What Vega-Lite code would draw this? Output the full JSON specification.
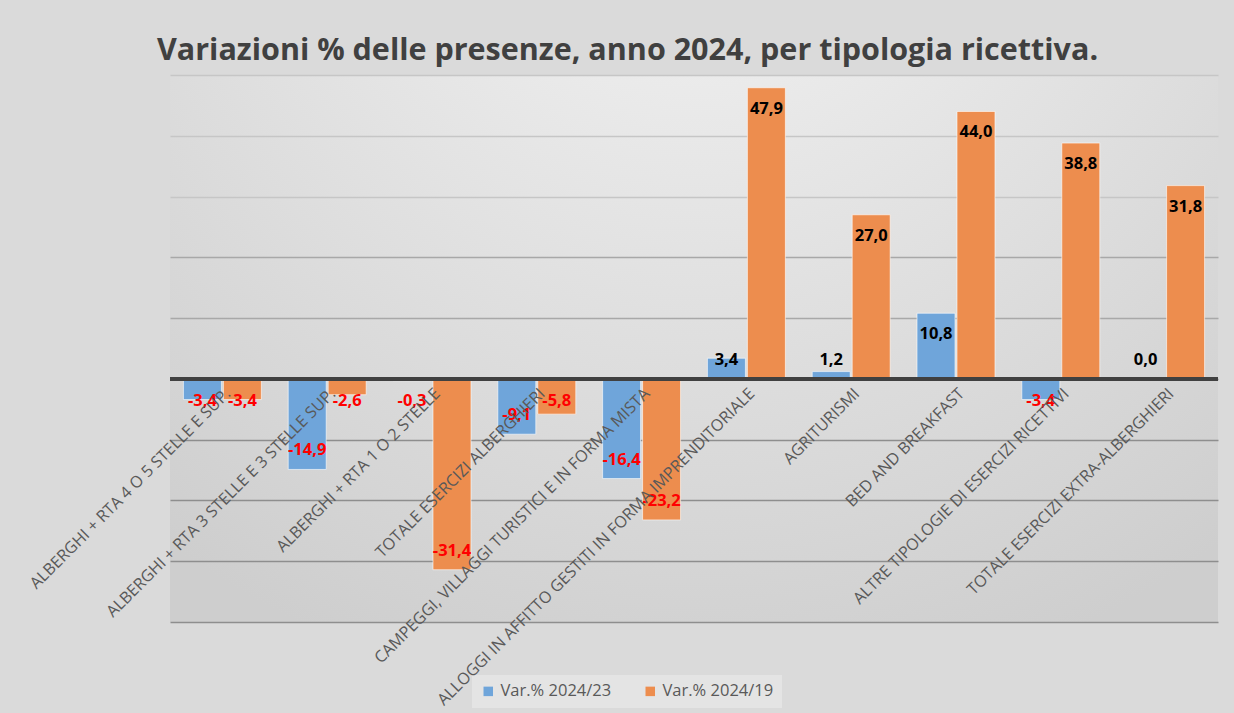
{
  "$schema": "https://vega.github.io/schema/vega-lite/v6.json",
  "autosize": {"type": "none"},
  "width": 1048,
  "height": 547,
  "padding": {"left": 170, "top": 75, "right": 16, "bottom": 91},
  "background": "#dadada",
  "config": {
    "locale": {"number": {"decimal": ",", "thousands": ".", "grouping": [3], "currency": ["€", ""], "minus": "-"}},
    "view": {"stroke": null, "fill": {"gradient": "radial", "x1": 0.5, "y1": 0.0, "r1": 0, "x2": 0.5, "y2": 0.0, "r2": 0.85, "stops": [{"offset": 0, "color": "#f6f6f6"}, {"offset": 1, "color": "#cecece"}]}},
    "font": "Open Sans"
  },
  "title": {
    "text": "Variazioni % delle presenze, anno 2024, per tipologia ricettiva.",
    "anchor": "start",
    "frame": "group",
    "dx": -13,
    "fontSize": 30.5,
    "fontWeight": "bold",
    "color": "#404040",
    "font": "Open Sans",
    "offset": -15,
    "baseline": "alphabetic"
  },
  "data": {
    "values": [
      {"categoria": "ALBERGHI + RTA 4 O 5 STELLE E SUP.", "serie": "Var.% 2024/23", "valore": -3.4},
      {"categoria": "ALBERGHI + RTA 4 O 5 STELLE E SUP.", "serie": "Var.% 2024/19", "valore": -3.4},
      {"categoria": "ALBERGHI + RTA 3 STELLE E 3 STELLE SUP.", "serie": "Var.% 2024/23", "valore": -14.9},
      {"categoria": "ALBERGHI + RTA 3 STELLE E 3 STELLE SUP.", "serie": "Var.% 2024/19", "valore": -2.6},
      {"categoria": "ALBERGHI + RTA 1 O 2 STELLE", "serie": "Var.% 2024/23", "valore": -0.3},
      {"categoria": "ALBERGHI + RTA 1 O 2 STELLE", "serie": "Var.% 2024/19", "valore": -31.4},
      {"categoria": "TOTALE ESERCIZI ALBERGHIERI", "serie": "Var.% 2024/23", "valore": -9.1},
      {"categoria": "TOTALE ESERCIZI ALBERGHIERI", "serie": "Var.% 2024/19", "valore": -5.8},
      {"categoria": "CAMPEGGI, VILLAGGI TURISTICI E IN FORMA MISTA", "serie": "Var.% 2024/23", "valore": -16.4},
      {"categoria": "CAMPEGGI, VILLAGGI TURISTICI E IN FORMA MISTA", "serie": "Var.% 2024/19", "valore": -23.2},
      {"categoria": "ALLOGGI IN AFFITTO GESTITI IN FORMA IMPRENDITORIALE", "serie": "Var.% 2024/23", "valore": 3.4},
      {"categoria": "ALLOGGI IN AFFITTO GESTITI IN FORMA IMPRENDITORIALE", "serie": "Var.% 2024/19", "valore": 47.9},
      {"categoria": "AGRITURISMI", "serie": "Var.% 2024/23", "valore": 1.2},
      {"categoria": "AGRITURISMI", "serie": "Var.% 2024/19", "valore": 27.0},
      {"categoria": "BED AND BREAKFAST", "serie": "Var.% 2024/23", "valore": 10.8},
      {"categoria": "BED AND BREAKFAST", "serie": "Var.% 2024/19", "valore": 44.0},
      {"categoria": "ALTRE TIPOLOGIE DI ESERCIZI RICETTIVI", "serie": "Var.% 2024/23", "valore": -3.4},
      {"categoria": "ALTRE TIPOLOGIE DI ESERCIZI RICETTIVI", "serie": "Var.% 2024/19", "valore": 38.8},
      {"categoria": "TOTALE ESERCIZI EXTRA-ALBERGHIERI", "serie": "Var.% 2024/23", "valore": 0.0},
      {"categoria": "TOTALE ESERCIZI EXTRA-ALBERGHIERI", "serie": "Var.% 2024/19", "valore": 31.8}
    ]
  },
  "layer": [
    {
      "mark": {"type": "bar", "stroke": "#ffffff", "strokeOpacity": 0.6, "strokeWidth": 1},
      "encoding": {
        "x": {
          "field": "categoria", "type": "nominal", "sort": null,
          "scale": {"paddingInner": 0.256, "paddingOuter": 0.128},
          "axis": {
            "title": null, "orient": "bottom", "offset": -243, "domain": false, "ticks": false,
            "labelAngle": -45, "labelAlign": "right", "labelBaseline": "top", "labelPadding": 6,
            "labelFontSize": 16.2, "labelColor": "#595959", "labelFont": "Open Sans",
            "labelLimit": 1000, "labelOverlap": false, "labelBound": false, "zindex": 1
          }
        },
        "xOffset": {"field": "serie", "type": "nominal", "sort": null, "scale": {"paddingInner": 0.05}},
        "y": {
          "field": "valore", "type": "quantitative",
          "scale": {"domain": [-40, 50], "nice": false, "zero": true},
          "axis": {
            "values": [-40, -30, -20, -10, 0, 10, 20, 30, 40, 50],
            "labels": false, "ticks": false, "domain": false, "title": null,
            "gridColor": {"condition": [{"test": "datum.value >= 30", "value": "#c6c6c6"}, {"test": "datum.value >= 10", "value": "#a8a8a8"}], "value": "#8e8e8e"},
            "gridWidth": 1.5
          }
        },
        "color": {
          "field": "serie", "type": "nominal",
          "scale": {"domain": ["Var.% 2024/23", "Var.% 2024/19"], "range": ["#6fa5da", "#ed8d4e"]},
          "legend": {
            "title": null, "orient": "none", "legendX": 302, "legendY": 600, "direction": "horizontal",
            "symbolType": "square", "symbolSize": 90, "symbolStrokeWidth": 0,
            "labelFontSize": 16.5, "labelColor": "#595959", "labelFont": "Open Sans",
            "fillColor": "#e4e4e4", "padding": 8, "columnPadding": 30
          }
        }
      }
    },
    {
      "mark": {"type": "rule", "color": "#404040", "strokeWidth": 3},
      "encoding": {"y": {"datum": 0, "type": "quantitative"}}
    },
    {
      "transform": [{"filter": "datum.valore >= 7"}],
      "mark": {"type": "text", "fontWeight": "bold", "fontSize": 16.5, "color": "#000000", "dy": 21, "baseline": "middle"},
      "encoding": {
        "x": {"field": "categoria", "type": "nominal", "sort": null},
        "xOffset": {"field": "serie", "type": "nominal", "sort": null},
        "y": {"field": "valore", "type": "quantitative"},
        "text": {"field": "valore", "type": "quantitative", "format": ".1f"}
      }
    },
    {
      "transform": [{"filter": "datum.valore >= 0 && datum.valore < 7"}],
      "mark": {"type": "text", "fontWeight": "bold", "fontSize": 16.5, "color": "#000000", "baseline": "middle"},
      "encoding": {
        "x": {"field": "categoria", "type": "nominal", "sort": null},
        "xOffset": {"field": "serie", "type": "nominal", "sort": null},
        "y": {"datum": 3.1, "type": "quantitative"},
        "text": {"field": "valore", "type": "quantitative", "format": ".1f"}
      }
    },
    {
      "transform": [{"filter": "datum.valore < 0 && datum.valore > -7"}],
      "mark": {"type": "text", "fontWeight": "bold", "fontSize": 16.5, "color": "#ff0000", "baseline": "middle"},
      "encoding": {
        "x": {"field": "categoria", "type": "nominal", "sort": null},
        "xOffset": {"field": "serie", "type": "nominal", "sort": null},
        "y": {"datum": -3.6, "type": "quantitative"},
        "text": {"field": "valore", "type": "quantitative", "format": ".1f"}
      }
    },
    {
      "transform": [{"filter": "datum.valore <= -7"}],
      "mark": {"type": "text", "fontWeight": "bold", "fontSize": 16.5, "color": "#ff0000", "dy": -19, "baseline": "middle"},
      "encoding": {
        "x": {"field": "categoria", "type": "nominal", "sort": null},
        "xOffset": {"field": "serie", "type": "nominal", "sort": null},
        "y": {"field": "valore", "type": "quantitative"},
        "text": {"field": "valore", "type": "quantitative", "format": ".1f"}
      }
    }
  ]
}
